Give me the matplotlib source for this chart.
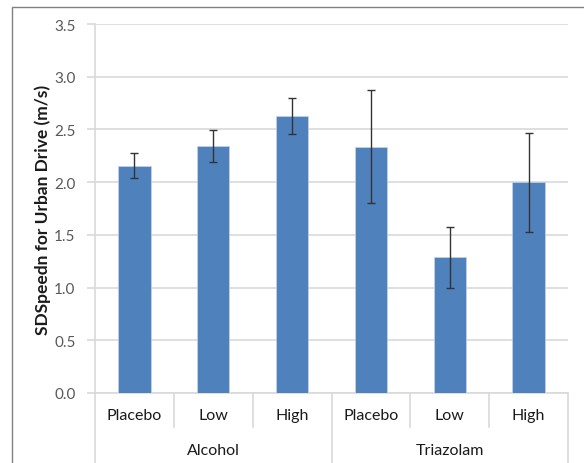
import matplotlib.pyplot as plt
from matplotlib.patches import Rectangle

plt.rcParams['font.family'] = ['Lato', 'DejaVu Sans']

groups = ["Alcohol", "Triazolam"]
doses = ["Placebo", "Low", "High", "Placebo", "Low", "High"]
means = [2.15, 2.34, 2.63, 2.33, 1.29, 2.00]
err_low = [2.04, 2.19, 2.46, 1.80, 1.00, 1.53]
err_high = [2.28, 2.49, 2.80, 2.87, 1.57, 2.47]

BLUE = "#4F81BD"
GRID = "#D9D9D9"
TEXT = "#595959"


def main():
    fig = plt.figure(figsize=(5.84, 4.64), dpi=100)
    ax = fig.add_axes([95 / 584, 1 - 394 / 464, 473 / 584, 369 / 464])

    # frame around the whole chart, open to the right and bottom
    fig.patches.append(Rectangle((12 / 584, -0.05), 1.0, 1 - 8 / 464 + 0.05,
                                 transform=fig.transFigure, fill=False,
                                 edgecolor="#808080", linewidth=1.0))

    x = list(range(len(means)))
    yerr = [[m - lo for m, lo in zip(means, err_low)],
            [hi - m for m, hi in zip(means, err_high)]]
    ax.bar(x, means, width=0.41, color=BLUE, edgecolor="#C6D4E8",
           linewidth=0.5, zorder=3)
    ax.errorbar(x, means, yerr=yerr, fmt="none", ecolor="#333333",
                elinewidth=1.0, capsize=3, capthick=1.0, zorder=4)

    ax.set_xlim(-0.5, len(means) - 0.5)
    ax.set_ylim(0, 3.5)
    ax.set_yticks([i * 0.5 for i in range(8)])
    ax.set_yticklabels([f"{i * 0.5:.1f}" for i in range(8)])
    ax.yaxis.grid(True, color=GRID, linewidth=1.2, zorder=0)
    ax.set_axisbelow(True)

    for side in ["top", "right"]:
        ax.spines[side].set_visible(False)
    ax.spines["left"].set_color(GRID)
    ax.spines["left"].set_linewidth(1.2)
    ax.spines["bottom"].set_color(GRID)
    ax.spines["bottom"].set_linewidth(1.2)

    ax.tick_params(axis="y", length=6, color=GRID, width=1.2,
                   labelsize=11, labelcolor=TEXT, pad=8)
    ax.set_xticks([])

    ax.set_ylabel("SDSpeedn for Urban Drive (m/s)", fontsize=12.5,
                  fontweight="bold", color="#1a1a1a")
    ax.yaxis.set_label_coords(-44 / 473, 0.5)

    # two-level category axis drawn below the plot
    trans = ax.get_xaxis_transform()
    px = 1 / 369
    for i in range(len(means) + 1):
        pos = i - 0.5
        bottom = -70 * px if i % 3 == 0 else -34 * px
        ax.plot([pos, pos], [0, bottom], color=GRID, linewidth=1.2,
                transform=trans, clip_on=False)
    for i, d in enumerate(doses):
        ax.text(i, -22 * px, d, ha="center", va="center", fontsize=11.5,
                color="#1a1a1a", transform=trans)
    for g, name in enumerate(groups):
        ax.text(g * 3 + 1, -57 * px, name, ha="center", va="center",
                fontsize=11.5, color="#1a1a1a", transform=trans)

    fig.savefig("out.png", dpi=100)


if __name__ == "__main__":
    main()
